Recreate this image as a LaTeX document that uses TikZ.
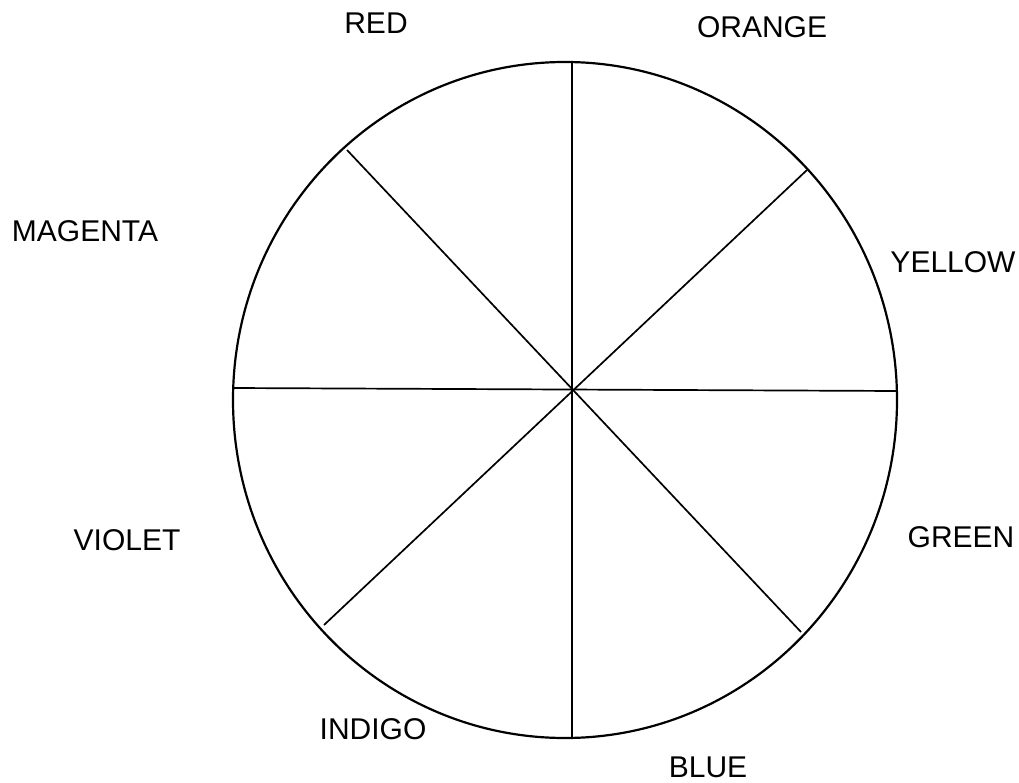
\documentclass[tikz,border=0pt]{standalone}
\usepackage{fontspec}
\setmainfont{Liberation Sans}
\begin{document}
\begin{tikzpicture}[x=1pt,y=-1pt,
  rim/.style={line width=2.2pt,black},
  spoke/.style={line width=1.7pt,black},
  lab/.style={font=\fontsize{30}{32}\selectfont,inner sep=0pt}]
\useasboundingbox (0,0) rectangle (1019,783);
\fill[white] (0,0) rectangle (1019,783);
% wheel rim
\draw[rim] (565,400) ellipse [x radius=332, y radius=338];
% centre and rim points
\coordinate (c) at (572,388);
\coordinate (n) at (572,62);
\coordinate (s) at (572,738);
\coordinate (w) at (233,388);
\coordinate (e) at (897,391);
\coordinate (nw) at (347,150);
\coordinate (ne) at (807,170);
\coordinate (sw) at (324,625);
\coordinate (se) at (801,632);
\draw[spoke] (n) -- (s);
\draw[spoke] (w) -- (e);
\draw[spoke] (nw) -- (se);
\draw[spoke] (ne) -- (sw);
% labels
\node[lab] (red) at (376,23) {RED};
\node[lab] (orange) at (762,27) {ORANGE};
\node[lab] (magenta) at (85,231) {MAGENTA};
\node[lab] (yellow) at (953,262) {YELLOW};
\node[lab] (violet) at (127,540) {VIOLET};
\node[lab] (green) at (961,537) {GREEN};
\node[lab] (indigo) at (373,729) {INDIGO};
\node[lab] (blue) at (708,767) {BLUE};
\end{tikzpicture}
\end{document}
